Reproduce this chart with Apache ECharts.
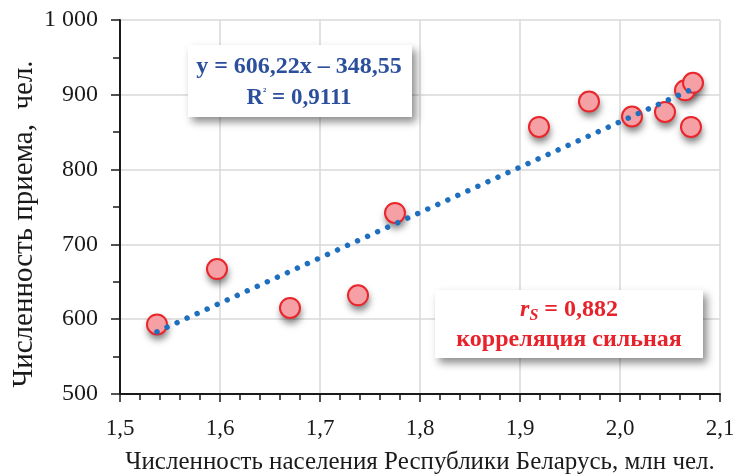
<!DOCTYPE html>
<html>
<head>
<meta charset="utf-8">
<script src="https://cdn.jsdelivr.net/npm/echarts@6/dist/echarts.min.js"></script>
<style>
  html, body { margin: 0; padding: 0; background: #fff; }
  #chart { width: 740px; height: 476px; }
</style>
</head>
<body>
<div id="chart"></div>
<script>
// Population of the Republic of Belarus (mln) vs. admissions (persons)
const population = [1.537, 1.597, 1.670, 1.738, 1.775, 1.919, 1.969, 2.012, 2.045, 2.071, 2.065, 2.073];
const admissions = [593, 667, 615, 632, 742, 857, 891, 871, 877, 857, 906, 916];

// Linear trend coefficients and Spearman correlation
const slope = 606.22;
const intercept = -348.55;
const rSquared = '0,9111';
const spearman = '0,882';

const xTicks = { min: 1.5, max: 2.1, step: 0.1 };
const yTicks = { min: 500, max: 1000, step: 100 };

const serif = '"Liberation Serif", "Times New Roman", serif';
const comma = v => String(v).replace('.', ',');

const points = population.map((x, i) => [x, admissions[i]]);
const xLo = Math.min(...population);
const xHi = Math.max(...population);
const trend = [xLo, xHi].map(x => [x, slope * x + intercept]);

const blue = '#2b4f9c';
const red = '#e8222a';
const pink = '#f5a0a5';
const boxShadow = { shadowColor: 'rgba(0,0,0,0.45)', shadowBlur: 8, shadowOffsetX: 4, shadowOffsetY: 5 };

const chart = echarts.init(document.getElementById('chart'), null, { renderer: 'canvas' });

chart.setOption({
  backgroundColor: '#ffffff',
  animation: false,
  grid: { left: 120, right: 20, top: 20, bottom: 82, containLabel: false, outerBoundsMode: 'none' },
  xAxis: {
    type: 'value',
    min: xTicks.min, max: xTicks.max, interval: xTicks.step,
    name: 'Численность населения Республики Беларусь, млн чел.',
    nameLocation: 'middle', nameGap: 56,
    nameTextStyle: { fontFamily: serif, fontSize: 25, color: '#1a1a1a' },
    axisLine: { onZero: false, lineStyle: { color: '#1a1a1a', width: 2 } },
    axisTick: { show: true, inside: false, length: 8, lineStyle: { color: '#1a1a1a', width: 1.5 } },
    minorTick: { show: true, splitNumber: 5, length: 6, lineStyle: { color: '#1a1a1a', width: 1.5 } },
    axisLabel: {
      margin: 23, fontFamily: serif, fontSize: 23, color: '#1a1a1a',
      formatter: v => comma(v.toFixed(1))
    },
    splitLine: { show: true, lineStyle: { color: '#d9d9d9', width: 1.5 } }
  },
  yAxis: {
    type: 'value',
    min: yTicks.min, max: yTicks.max, interval: yTicks.step,
    name: 'Численность приема,  чел.',
    nameLocation: 'middle', nameGap: 81, nameRotate: 90, nameMoveOverlap: false,
    nameTextStyle: { fontFamily: serif, fontSize: 29, color: '#1a1a1a', padding: [0, 34, 0, 0] },
    axisLine: { show: true, onZero: false, lineStyle: { color: '#1a1a1a', width: 2 } },
    axisTick: { show: true, inside: false, length: 9, lineStyle: { color: '#1a1a1a', width: 1.5 } },
    minorTick: { show: true, splitNumber: 2, length: 7, lineStyle: { color: '#1a1a1a', width: 1.5 } },
    axisLabel: {
      margin: 22, fontFamily: serif, fontSize: 24, color: '#1a1a1a',
      formatter: v => v >= 1000 ? String(v).replace(/(\d)(?=(\d{3})+$)/g, '$1 ') : String(v)
    },
    splitLine: { show: true, lineStyle: { color: '#d9d9d9', width: 1.5 } }
  },
  series: [
    {
      // drop shadows under the markers
      type: 'scatter',
      data: points,
      symbol: 'circle',
      symbolSize: 21,
      silent: true,
      itemStyle: {
        color: pink,
        opacity: 1,
        shadowColor: 'rgba(0,0,0,0.5)',
        shadowBlur: 7,
        shadowOffsetX: 1,
        shadowOffsetY: 5
      },
      z: 1
    },
    {
      type: 'scatter',
      data: points,
      symbol: 'circle',
      symbolSize: 20,
      itemStyle: {
        color: pink,
        borderColor: '#e8262b',
        borderWidth: 2,
        opacity: 1
      },
      z: 2
    },
    {
      type: 'line',
      data: trend,
      showSymbol: false,
      symbol: 'none',
      lineStyle: { color: '#1f6fbf', width: 5.5, type: [0.01, 11], cap: 'round' },
      z: 3
    }
  ],
  graphic: [
    // regression equation box
    {
      type: 'rect',
      shape: { x: 188, y: 45, width: 224, height: 72 },
      style: Object.assign({ fill: '#ffffff' }, boxShadow),
      z: 10
    },
    {
      type: 'text',
      x: 299, y: 67,
      style: {
        text: 'y = ' + comma(slope) + 'x – ' + comma(-intercept),
        font: 'bold 24px ' + serif, fill: blue,
        align: 'center', verticalAlign: 'middle'
      },
      z: 11
    },
    {
      type: 'text',
      x: 299, y: 98,
      style: {
        text: '{r|R}{s|²}{r| = ' + rSquared + '}',
        align: 'center', verticalAlign: 'middle',
        rich: {
          r: { fontFamily: serif, fontSize: 23, fontWeight: 'bold', fill: blue },
          s: { fontFamily: serif, fontSize: 11, fontWeight: 'bold', fill: blue, padding: [0, 0, 12, 0] }
        }
      },
      z: 11
    },
    // correlation box
    {
      type: 'rect',
      shape: { x: 435, y: 290, width: 268, height: 68 },
      style: Object.assign({ fill: '#ffffff' }, boxShadow),
      z: 10
    },
    {
      type: 'text',
      x: 569, y: 310,
      style: {
        text: '{i|r}{sub|S}{n| = ' + spearman + '}',
        align: 'center', verticalAlign: 'middle',
        rich: {
          i: { fontFamily: serif, fontSize: 24, fontWeight: 'bold', fontStyle: 'italic', fill: red },
          sub: { fontFamily: serif, fontSize: 16, fontWeight: 'bold', fontStyle: 'italic', fill: red, padding: [12, 0, 0, 0] },
          n: { fontFamily: serif, fontSize: 24, fontWeight: 'bold', fill: red }
        }
      },
      z: 11
    },
    {
      type: 'text',
      x: 569, y: 340,
      style: {
        text: 'корреляция сильная',
        font: 'bold 24px ' + serif, fill: red,
        align: 'center', verticalAlign: 'middle'
      },
      z: 11
    }
  ]
});
</script>
</body>
</html>
